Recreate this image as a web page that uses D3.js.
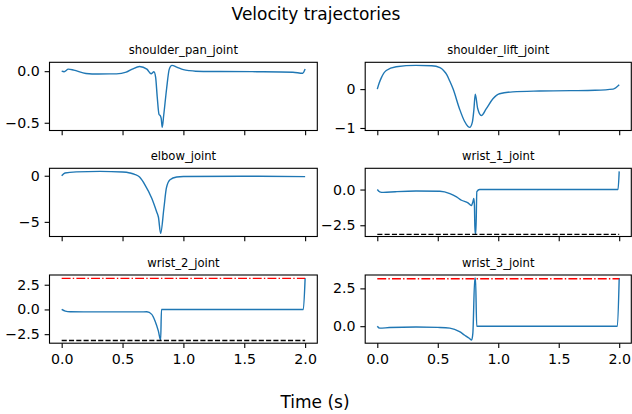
<!DOCTYPE html>
<html><head><meta charset="utf-8">
<script src="https://cdn.jsdelivr.net/npm/d3@7"></script>
<style>
body{margin:0;background:#fff}
svg{display:block;font-family:"DejaVu Sans",sans-serif;background:#fff}
</style>
</head><body>
<svg id="chart" width="632" height="414"></svg>
<script>
// ---------- data ----------
const jointNames = ["shoulder_pan_joint","shoulder_lift_joint","elbow_joint","wrist_1_joint","wrist_2_joint","wrist_3_joint"];

const panTime = [0,0.02,0.055,0.1,0.2,0.3,0.45,0.53,0.58,0.64,0.70,0.735,0.758,0.772,0.785,0.80,0.81,0.818,0.826,0.838,0.862,0.884,0.906,0.945,1.0,1.05,1.1,1.3,1.6,1.9,1.98,2.0];
const panVel  = [0,-0.005,0.02,0.01,-0.022,-0.027,-0.026,-0.01,0.02,0.046,0.02,-0.025,-0.005,-0.06,-0.25,-0.42,-0.43,-0.46,-0.545,-0.43,-0.17,0.02,0.056,0.04,0.015,0.005,0.0,-0.003,-0.005,-0.01,-0.02,0.02];

const liftTime = [0,0.015,0.033,0.074,0.156,0.32,0.45,0.518,0.55,0.573,0.6,0.627,0.68,0.72,0.75,0.764,0.786,0.798,0.81,0.83,0.86,0.9,0.956,1.01,1.12,1.34,1.6,1.8,1.95,2.0];
const liftVel  = [0,0.15,0.29,0.48,0.575,0.61,0.6,0.55,0.47,0.38,0.2,0,-0.51,-0.82,-0.96,-0.985,-0.85,-0.55,-0.13,-0.5,-0.68,-0.51,-0.25,-0.12,-0.07,-0.05,-0.04,-0.03,0.0,0.11];

const elbowTime = [0,0.027,0.12,0.315,0.5,0.56,0.6,0.64,0.684,0.74,0.78,0.795,0.813,0.84,0.86,0.89,0.945,1.0,1.5,2.0];
const elbowVel  = [0,0.3,0.42,0.47,0.4,0.3,0.15,-0.15,-0.98,-2.44,-3.9,-4.5,-6.25,-3.5,-1.35,-0.44,-0.14,-0.08,-0.06,-0.1];

const wrist1Time = [0,0.02,0.05,0.15,0.32,0.518,0.6,0.655,0.696,0.75,0.778,0.79,0.798,0.803,0.808,0.815,0.823,0.846,1.0,1.5,1.99,2.0];
const wrist1Vel  = [0,-0.16,-0.2,-0.15,-0.1,-0.12,-0.28,-0.51,-0.75,-0.93,-1.12,-0.87,-0.63,-1.1,-3.07,-3.07,-0.15,0,0,0,0,1.27];

const wrist2Time = [0,0.03,0.07,0.3,0.6,0.7,0.74,0.767,0.794,0.813,0.82,1.0,1.5,1.985,2.0];
const wrist2Vel  = [0,-0.17,-0.23,-0.25,-0.25,-0.24,-0.5,-1.17,-2.17,-3.1,0,0,0,0,3.17];

const wrist3Time = [0,0.02,0.1,0.32,0.5,0.6,0.68,0.72,0.76,0.78,0.79,0.806,0.812,0.822,1.0,1.5,1.985,2.0];
const wrist3Vel  = [0,-0.13,-0.09,-0.05,-0.08,-0.13,-0.36,-0.58,-0.8,-0.92,-0.47,3.18,3.18,0,0,0,0,3.18];

const lowerLimits = [null,null,null,-Math.PI,-Math.PI,null];
const upperLimits = [null,null,null,null,Math.PI,Math.PI];

const xTicks = [0,0.5,1,1.5,2];
const xTickLabels = ["0.0","0.5","1.0","1.5","2.0"];

const panYTicks = [0,-0.5],    panYLabels = ["0.0","\u22120.5"];
const liftYTicks = [0,-1],     liftYLabels = ["0","\u22121"];
const elbowYTicks = [0,-5],    elbowYLabels = ["0","\u22125"];
const wrist1YTicks = [0,-2.5], wrist1YLabels = ["0.0","\u22122.5"];
const wrist2YTicks = [2.5,0,-2.5], wrist2YLabels = ["2.5","0.0","\u22122.5"];
const wrist3YTicks = [2.5,0],  wrist3YLabels = ["2.5","0.0"];

const figTitle = "Velocity trajectories";
const xLabel = "Time (s)";

// ---------- build ----------
const times = [panTime,liftTime,elbowTime,wrist1Time,wrist2Time,wrist3Time];
const vels = [panVel,liftVel,elbowVel,wrist1Vel,wrist2Vel,wrist3Vel];
const yTicksAll = [panYTicks,liftYTicks,elbowYTicks,wrist1YTicks,wrist2YTicks,wrist3YTicks];
const yLabelsAll = [panYLabels,liftYLabels,elbowYLabels,wrist1YLabels,wrist2YLabels,wrist3YLabels];

const svg = d3.select("#chart");
const colX = [[49.5,317.3],[365.2,631.3]];
const rowY = [62.3,168.3,275];
const axH = 68.2;
const tickLen = 4.86, tickPad = 4.86;
const blue = "#1f77b4";

jointNames.forEach((name,i)=>{
  const col = i%2, row = Math.floor(i/2);
  const [x0,x1] = colX[col];
  const y0 = rowY[row], y1 = y0+axH;
  const data = times[i].map((t,k)=>({t, v: vels[i][k]}));
  const [mn,mx] = d3.extent(vels[i]);
  const pad = (mx-mn)*0.05;
  const x = d3.scaleLinear().domain([-0.1,2.1]).range([x0,x1]);
  const y = d3.scaleLinear().domain([mn-pad,mx+pad]).range([y1,y0]);
  const g = svg.append("g");

  const line = d3.line().x(d=>x(d.t)).y(d=>y(d.v)).curve(d3.curveMonotoneX);
  g.append("path").datum(data).attr("d",line)
    .attr("fill","none").attr("stroke",blue).attr("stroke-width",1.4)
    .attr("stroke-linejoin","round");

  const tEnds = d3.extent(times[i]);
  if (upperLimits[i] !== null) {
    g.append("line").attr("x1",x(tEnds[0])).attr("x2",x(tEnds[1]))
      .attr("y1",y(upperLimits[i])).attr("y2",y(upperLimits[i]))
      .attr("stroke","#ff0000").attr("stroke-width",1.39)
      .attr("stroke-dasharray","8.9,2.2,1.4,2.2");
  }
  if (lowerLimits[i] !== null) {
    g.append("line").attr("x1",x(tEnds[0])).attr("x2",x(tEnds[1]))
      .attr("y1",y(lowerLimits[i])).attr("y2",y(lowerLimits[i]))
      .attr("stroke","#000").attr("stroke-width",1.39)
      .attr("stroke-dasharray","5.1,2.2");
  }

  // y axis
  const ya = g.append("g").attr("transform",`translate(${x0},0)`)
    .call(d3.axisLeft(y).tickValues(yTicksAll[i]).tickFormat((d,k)=>yLabelsAll[i][k])
      .tickSize(tickLen).tickPadding(tickPad));
  // x axis
  const xa = g.append("g").attr("transform",`translate(0,${y1})`)
    .call(d3.axisBottom(x).tickValues(xTicks).tickFormat((d,k)=> row===2 ? xTickLabels[k] : "")
      .tickSize(tickLen).tickPadding(tickPad+1.5));
  [ya,xa].forEach(a=>{
    a.select(".domain").remove();
    a.attr("font-family",null).attr("font-size",null);
    a.selectAll(".tick line").attr("stroke","#000").attr("stroke-width",1.1);
    a.selectAll(".tick text").attr("fill","#000").style("font-size","14.2px")
      .style("font-family","'DejaVu Sans',sans-serif");
  });

  // spines
  g.append("rect").attr("x",x0).attr("y",y0).attr("width",x1-x0).attr("height",axH)
    .attr("fill","none").attr("stroke","#000").attr("stroke-width",1.1);

  // title
  g.append("text").attr("x",(x0+x1)/2).attr("y",y0-8.3)
    .attr("text-anchor","middle").style("font-size","11.6px").attr("fill","#000")
    .text(name);
});

svg.append("text").attr("x",316).attr("y",20).attr("text-anchor","middle")
  .style("font-size","17px").attr("fill","#000").text(figTitle);
svg.append("text").attr("x",315).attr("y",408).attr("text-anchor","middle")
  .style("font-size","17px").attr("fill","#000").text(xLabel);
</script>
</body></html>
